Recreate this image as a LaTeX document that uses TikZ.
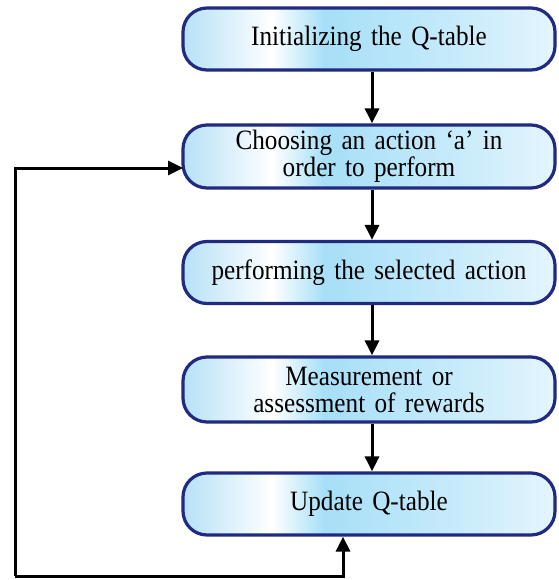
\documentclass[tikz,border=0pt]{standalone}
\usepackage{fontspec}
\setmainfont[FakeStretch=0.9]{Liberation Serif}
\usepackage{tikz}
\usetikzlibrary{arrows.meta}

\definecolor{edgeblue}{HTML}{1F2A80}
\definecolor{shadeA}{HTML}{B6E1F7}
\definecolor{shadeB}{HTML}{A6DFF7}
\definecolor{shadeC}{HTML}{C8EBFB}
\definecolor{shadeD}{HTML}{E4F5FD}
\pgfdeclarehorizontalshading{stageshade}{100bp}{color(0bp)=(shadeA); color(25bp)=(shadeA); color(37bp)=(white); color(44bp)=(shadeB); color(62bp)=(shadeC); color(75bp)=(shadeD); color(100bp)=(shadeD)}

\begin{document}
\begin{tikzpicture}[x=1pt, y=-1pt,
	stage/.style={shape=rectangle, rounded corners=24pt, draw=edgeblue, line width=3.2pt, shading=stageshade, minimum width=372pt, minimum height=62pt, text width=360pt, align=center, inner sep=0pt, font=\fontsize{28}{27}\selectfont},
	flow/.style={-{Triangle[length=15pt,width=14pt]}, line width=3pt}]
	
	\useasboundingbox (0,0) rectangle (558,580);
	
	\node[stage] (init) at (369, 39)     {Initializing the Q-table};
	\node[stage, minimum height=63pt] (choose) at (369, 156.5)     {Choosing an action `a' in\\ order to perform};
	\node[stage] (perform) at (369, 272.5)     {performing the selected action};
	\node[stage, minimum height=65pt] (measure) at (369, 389.5)     {Measurement or\\ assessment of rewards};
	\node[stage] (update) at (369, 504)     {Update Q-table};
	
	\coordinate (loopin) at (183, 168);
	\coordinate (loopup) at (343, 576);
	\coordinate (loopleft) at (15, 576);
	
	\path[flow] ([xshift=3pt]init.south) edge ([xshift=3pt]choose.north);
	\path[flow] ([xshift=3pt]choose.south) edge ([xshift=3pt]perform.north);
	\path[flow] ([xshift=3pt]perform.south) edge ([xshift=3pt]measure.north);
	\path[flow] ([xshift=3pt]measure.south) edge ([xshift=3pt]update.north);
	\draw[flow] (loopleft) |- (loopin);
	\draw[flow] (loopleft) -- (loopup) -- (loopup |- update.south);
	
\end{tikzpicture}
\end{document}
